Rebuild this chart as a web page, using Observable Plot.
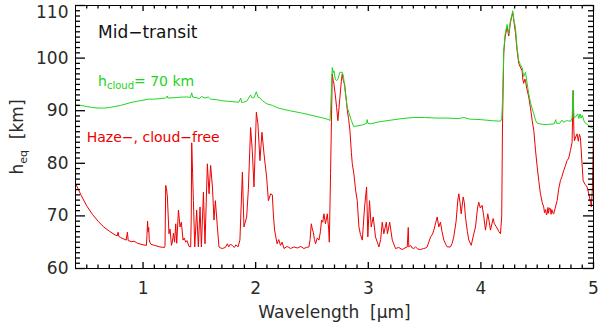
<!DOCTYPE html>
<html>
<head>
<meta charset="utf-8">
<script src="https://cdn.jsdelivr.net/npm/d3@7"></script>
<script src="https://cdn.jsdelivr.net/npm/@observablehq/plot@0.6"></script>
<style>
  html, body { margin: 0; padding: 0; background: #ffffff; }
  #chart svg { display: block; }
</style>
</head>
<body>
<div id="chart"></div>
<script>
// ---- Data ----
// Haze-, cloud-free spectrum (red)
const redWavelength = [
  0.40,0.45,0.50,0.55,0.60,0.65,0.70,0.75,0.77,0.778,0.785,0.80,0.85,0.861,0.868,0.90,0.92,0.95,1.00,1.03,
  1.035,1.04,1.045,1.05,1.055,1.06,1.07,1.10,1.15,1.19,1.195,1.201,1.208,1.216,1.23,1.24,1.252,1.26,1.27,1.28,
  1.29,1.299,1.314,1.328,1.34,1.355,1.365,1.379,1.39,1.408,1.423,1.428,1.432,1.44,1.447,1.459,1.476,1.491,1.506,1.518,
  1.536,1.55,1.571,1.586,1.60,1.616,1.63,1.642,1.66,1.674,1.69,1.704,1.73,1.749,1.76,1.775,1.793,1.81,1.825,1.843,
  1.86,1.882,1.896,1.92,1.935,1.955,1.97,1.985,2.006,2.02,2.038,2.056,2.074,2.097,2.113,2.133,2.148,2.158,2.168,2.19,
  2.205,2.22,2.235,2.251,2.28,2.31,2.34,2.37,2.40,2.428,2.45,2.473,2.483,2.494,2.503,2.512,2.522,2.532,2.547,2.562,
  2.575,2.585,2.596,2.606,2.62,2.636,2.648,2.654,2.665,2.68,2.688,2.695,2.707,2.719,2.73,2.748,2.76,2.769,2.78,2.79,
  2.814,2.825,2.837,2.85,2.858,2.872,2.888,2.902,2.917,2.93,2.947,2.967,2.985,2.996,3.011,3.026,3.044,3.064,3.08,3.094,
  3.11,3.124,3.138,3.16,3.17,3.19,3.213,3.242,3.27,3.301,3.325,3.346,3.355,3.36,3.375,3.39,3.404,3.42,3.44,3.464,
  3.49,3.51,3.523,3.553,3.57,3.582,3.60,3.612,3.626,3.641,3.655,3.671,3.69,3.701,3.73,3.745,3.759,3.78,3.795,3.804,
  3.815,3.825,3.843,3.853,3.863,3.88,3.893,3.914,3.937,3.952,3.97,3.981,3.995,4.011,4.025,4.041,4.061,4.073,4.085,4.109,
  4.12,4.138,4.16,4.174,4.185,4.192,4.203,4.215,4.233,4.247,4.262,4.275,4.283,4.295,4.307,4.32,4.336,4.35,4.366,4.372,
  4.38,4.39,4.396,4.405,4.425,4.44,4.455,4.47,4.485,4.50,4.515,4.529,4.545,4.558,4.565,4.575,4.582,4.588,4.595,4.60,
  4.608,4.617,4.623,4.63,4.64,4.647,4.66,4.677,4.69,4.706,4.72,4.735,4.75,4.765,4.78,4.795,4.81,4.819,4.826,4.831,
  4.842,4.854,4.865,4.875,4.884,4.895,4.908,4.925,4.943,4.96,4.975,4.981,4.99,5.0
];
const redHeight = [
  76.2,73.9,71.9,70.3,69.0,67.9,67.1,66.4,66.2,66.9,66.1,65.9,65.4,66.9,65.3,65.1,65.2,64.8,64.5,64.4,
  66.5,69.0,67.0,67.8,65.5,65.0,64.6,64.4,64.1,64.0,64.3,75.8,75.2,73.6,66.6,67.5,64.4,65.0,66.7,65.0,
  68.5,64.8,71.1,67.9,68.8,65.4,65.8,65.0,65.3,64.2,64.1,70.0,83.9,78.0,72.9,64.1,71.1,64.1,71.7,64.1,
  74.5,64.7,79.9,74.2,79.6,75.5,69.2,72.9,67.9,64.1,63.9,63.8,64.0,64.7,64.1,64.6,64.4,64.0,64.5,64.1,
  65.4,78.3,67.9,69.8,75.0,86.8,82.4,75.5,89.7,87.5,80.5,85.9,81.8,77.4,72.9,74.2,74.0,70.0,67.3,64.7,
  65.5,64.4,65.0,63.8,64.2,63.8,64.1,63.9,64.2,63.8,64.0,64.1,65.5,68.5,67.5,66.9,65.5,64.7,65.8,65.4,
  67.0,69.2,68.8,70.4,68.5,70.4,67.5,65.0,78.0,97.0,95.8,95.1,93.0,90.6,88.1,92.5,95.5,97.0,95.5,95.1,
  90.0,88.5,86.2,82.0,79.9,78.0,74.8,72.9,67.9,66.5,65.4,71.7,75.5,66.0,72.9,67.9,69.8,66.0,65.0,64.1,
  65.5,68.8,66.6,68.8,66.6,68.8,65.4,63.8,64.0,63.6,63.9,64.1,67.8,64.1,64.4,63.9,63.8,64.1,63.7,63.6,
  63.8,63.9,64.1,66.0,66.5,67.3,68.8,69.8,67.9,68.8,67.0,65.4,64.5,64.1,64.1,64.8,66.0,69.0,73.0,74.2,
  72.5,70.4,73.6,72.5,69.8,67.0,65.4,64.4,66.6,67.9,71.5,72.6,71.5,72.0,70.0,67.3,70.4,69.0,67.3,69.5,
  68.5,67.9,67.0,66.6,70.0,87.5,101.0,104.0,106.0,104.2,106.7,108.0,108.6,106.7,104.8,101.7,99.0,98.3,97.6,96.0,
  95.2,96.0,95.8,94.5,92.6,90.6,88.2,86.2,82.5,79.3,76.5,74.2,72.5,71.7,70.6,71.2,70.2,70.4,71.6,70.5,
  71.5,71.4,70.3,71.2,70.5,70.4,71.5,72.9,75.0,76.7,77.5,78.6,79.5,80.5,81.0,82.4,84.0,93.8,86.0,84.3,
  85.0,85.6,84.2,85.5,84.9,81.0,76.7,76.0,75.5,74.0,72.5,71.7,75.0,86.2
];

// Cloudy spectrum, h_cloud = 70 km (green)
const greenWavelength = [
  0.40,0.45,0.50,0.55,0.60,0.65,0.70,0.75,0.80,0.85,0.90,0.95,1.00,1.05,1.10,1.15,1.20,1.216,1.22,1.30,
  1.35,1.40,1.42,1.432,1.44,1.47,1.50,1.52,1.55,1.58,1.60,1.65,1.70,1.75,1.80,1.85,1.867,1.875,1.89,1.92,
  1.955,1.97,1.985,2.006,2.02,2.04,2.06,2.10,2.15,2.20,2.30,2.40,2.50,2.60,2.65,2.66,2.665,2.68,2.688,2.695,
  2.707,2.719,2.73,2.748,2.769,2.78,2.79,2.814,2.83,2.85,2.87,2.90,2.95,2.985,2.99,2.996,3.02,3.10,3.20,3.30,
  3.40,3.50,3.60,3.70,3.80,3.85,3.90,4.00,4.10,4.174,4.185,4.192,4.203,4.215,4.233,4.247,4.262,4.275,4.283,4.295,
  4.307,4.32,4.336,4.35,4.366,4.38,4.396,4.41,4.425,4.44,4.455,4.47,4.485,4.50,4.55,4.60,4.65,4.665,4.67,4.70,
  4.72,4.735,4.76,4.80,4.81,4.819,4.826,4.84,4.86,4.87,4.88,4.89,4.90,4.92,4.95,4.98,5.0
];
const greenHeight = [
  91.1,91.0,90.8,90.6,90.5,90.5,90.6,90.8,91.0,91.3,91.6,91.8,92.0,92.2,92.2,92.3,92.4,92.8,92.4,92.5,
  92.6,92.6,92.5,93.4,92.6,92.5,92.3,92.7,92.4,92.6,92.2,92.1,91.9,91.8,91.7,91.6,92.4,91.6,91.6,91.8,
  93.0,92.4,92.5,93.6,92.6,92.4,91.9,91.3,91.0,90.5,90.0,89.6,89.1,88.6,88.3,88.1,90.0,98.2,97.2,97.6,
  96.0,95.7,96.0,97.3,97.3,96.5,94.4,90.6,89.5,88.1,87.0,87.1,87.3,87.6,88.3,87.6,87.5,87.9,88.2,88.5,
  88.7,88.7,88.6,88.6,88.5,88.7,88.4,88.3,88.1,88.0,88.5,91.9,101.4,104.5,106.4,104.6,107.1,108.2,109.0,107.0,
  105.8,102.3,99.5,98.8,98.2,96.5,97.3,95.3,93.2,91.6,90.4,89.4,88.2,87.6,87.4,87.4,87.5,88.3,87.6,87.6,
  88.2,87.8,88.1,88.0,88.6,93.9,88.7,88.8,89.4,88.5,89.4,88.6,89.1,87.8,87.3,86.8,86.5
];

// Axes
const xDomain = [0.4, 5];
const yDomain = [60, 110];
const xMajorTicks = [1, 2, 3, 4, 5];
const yMajorTicks = [60, 70, 80, 90, 100, 110];
const xMinorTicks = d3.range(5, 50).filter(i => i % 10 !== 0).map(i => i / 10);
const yMinorTicks = d3.range(61, 110).filter(v => v % 10 !== 0);
const xLabel = "Wavelength\u00a0\u00a0[\u03bcm]";
const yLabel = "Y_LABEL";
const titleText = "Mid\u2212transit";
const cloudText = "CLOUD_LABEL";
const hazeText = "Haze\u2212, cloud\u2212free";

const red = redWavelength.map((w, i) => ({w, h: redHeight[i]}));
const green = greenWavelength.map((w, i) => ({w, h: greenHeight[i]}));

const redColor = "#ee0000";
const greenColor = "#22d422";
const textColor = "#2a2a2a";
const tickColor = "#000000";
const font = "DejaVu Sans";

const W = 600, H = 323, mL = 75, mR = 7, mT = 5, mB = 55;
const frameW = W - mL - mR, frameH = H - mT - mB;

// inward ticks on all four sides (lengths in pixels via insets)
const xt = (data, len, side) => Plot.ruleX(data, {
  x: d => d, stroke: tickColor, strokeWidth: 1.3,
  ...(side === "bottom" ? {insetTop: frameH - len} : {insetBottom: frameH - len})
});
const yt = (data, len, side) => Plot.ruleY(data, {
  y: d => d, stroke: tickColor, strokeWidth: 1.3,
  ...(side === "left" ? {insetRight: frameW - len} : {insetLeft: frameW - len})
});

const chart = Plot.plot({
  width: W,
  height: H,
  marginLeft: mL,
  marginRight: mR,
  marginTop: mT,
  marginBottom: mB,
  style: {fontFamily: font, fontSize: "17px", background: "#ffffff", color: textColor},
  x: {domain: xDomain, axis: null, label: null},
  y: {domain: yDomain, axis: null, label: null},
  marks: [
    Plot.line(red, {x: "w", y: "h", stroke: redColor, strokeWidth: 1}),
    Plot.line(green, {x: "w", y: "h", stroke: greenColor, strokeWidth: 1}),
    Plot.frame({stroke: "#000", strokeWidth: 1}),
    xt(xMajorTicks, 6, "bottom"),
    xt(xMinorTicks, 3.5, "bottom"),
    xt(xMajorTicks, 6, "top"),
    xt(xMinorTicks, 3.5, "top"),
    yt(yMajorTicks, 10, "left"),
    yt(yMinorTicks, 5, "left"),
    yt(yMajorTicks, 10, "right"),
    yt(yMinorTicks, 5, "right"),
    Plot.axisX({ticks: xMajorTicks, tickSize: 0, tickPadding: 13, tickFormat: d => String(d), label: null, fill: textColor}),
    Plot.axisY({ticks: yMajorTicks.filter(v => v < 110), tickSize: 0, tickPadding: 7, tickFormat: d => String(d), label: null, fill: textColor}),
    Plot.axisY({ticks: [110], tickSize: 0, tickPadding: 7, tickFormat: d => String(d), label: null, dy: 7, fill: textColor}),
    Plot.text([xLabel], {frameAnchor: "bottom", dy: 44, lineAnchor: "middle", textAnchor: "middle", text: d => d, fill: textColor, fontSize: 17}),
    Plot.text([yLabel], {frameAnchor: "left", rotate: -90, dx: -58, lineAnchor: "middle", textAnchor: "middle", text: d => d, fill: textColor, fontSize: 17}),
    Plot.text([titleText], {x: 0.6, y: 104.9, text: d => d, textAnchor: "start", fill: "#111", fontSize: 17}),
    Plot.text([cloudText], {x: 0.6, y: 95.6, text: d => d, textAnchor: "start", fill: greenColor, fontSize: 14}),
    Plot.text([hazeText], {x: 0.5, y: 84.85, text: d => d, textAnchor: "start", fill: redColor, fontSize: 14})
  ]
});

// Subscripts as real SVG text (tspans)
d3.select(chart).selectAll("text").each(function() {
  const t = d3.select(this);
  const s = this.textContent;
  if (s === "CLOUD_LABEL") {
    t.text(null);
    t.append("tspan").text("h");
    t.append("tspan").attr("dy", 3.5).attr("font-size", 10).text("cloud");
    t.append("tspan").attr("dy", -3.5).text("= 70 km");
  } else if (s === "Y_LABEL") {
    t.text(null);
    t.append("tspan").text("h");
    t.append("tspan").attr("dy", 4).attr("font-size", 11).text("eq");
    t.append("tspan").attr("dy", -4).text("\u00a0\u00a0[km]");
  }
});

document.getElementById("chart").appendChild(chart);
</script>
</body>
</html>
